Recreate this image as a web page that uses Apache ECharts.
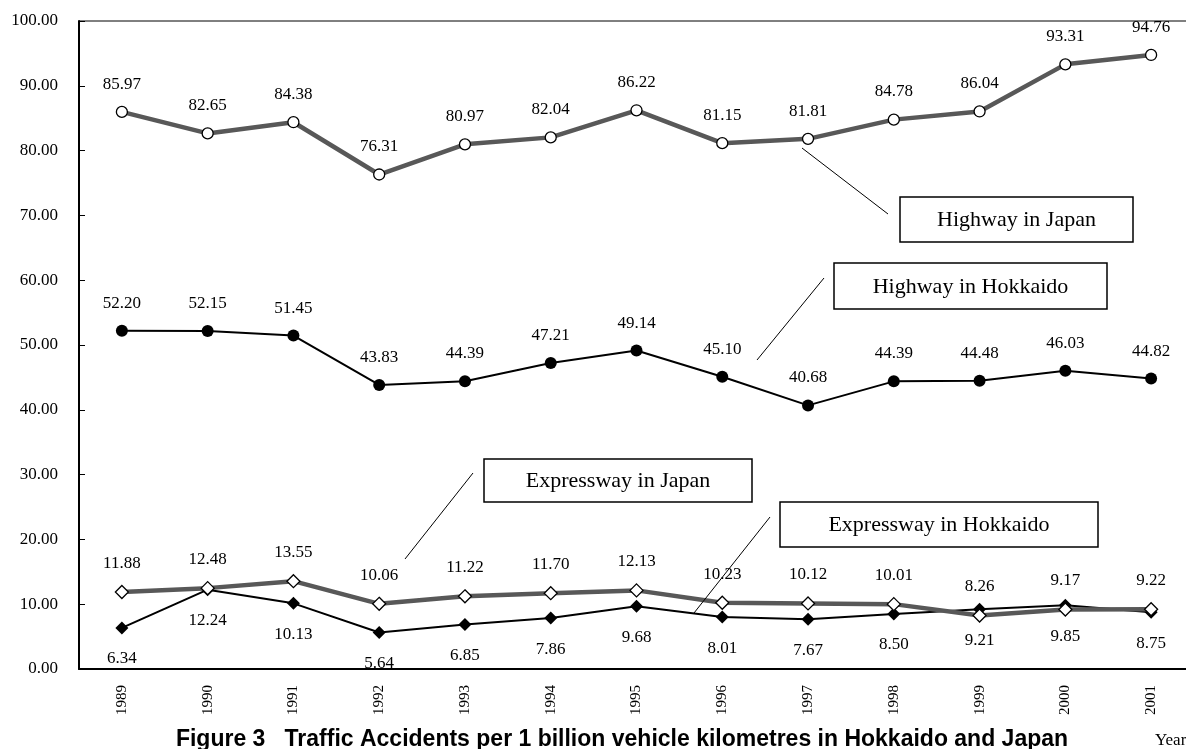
<!DOCTYPE html>
<html>
<head>
<meta charset="utf-8">
<title>Traffic Accidents per 1 billion vehicle kilometres</title>
<script src="https://cdn.jsdelivr.net/npm/echarts@6/dist/echarts.min.js"></script>
<style>
  html, body { margin: 0; padding: 0; background: #fff; }
  #chart { width: 1186px; height: 749px; }
</style>
</head>
<body>
<div id="chart"></div>
<script>
// Accidents per 1 billion vehicle-km, 1989-2001
const years = ['1989','1990','1991','1992','1993','1994','1995','1996','1997','1998','1999','2000','2001'];
const highwayJapan     = [85.97, 82.65, 84.38, 76.31, 80.97, 82.04, 86.22, 81.15, 81.81, 84.78, 86.04, 93.31, 94.76];
const highwayHokkaido  = [52.20, 52.15, 51.45, 43.83, 44.39, 47.21, 49.14, 45.10, 40.68, 44.39, 44.48, 46.03, 44.82];
const expresswayJapan  = [11.88, 12.48, 13.55, 10.06, 11.22, 11.70, 12.13, 10.23, 10.12, 10.01, 8.26, 9.17, 9.22];
const expresswayHokkaido = [6.34, 12.24, 10.13, 5.64, 6.85, 7.86, 9.68, 8.01, 7.67, 8.50, 9.21, 9.85, 8.75];
const yTicks = { min: 0, max: 100, interval: 10 };

const SERIF = '"Liberation Serif", "Times New Roman", serif';
const GRAY = '#585858';

function valueLabel(pos, dist) {
  return {
    show: true, position: pos, distance: dist,
    color: '#000', fontFamily: SERIF, fontSize: 17,
    formatter: p => p.value.toFixed(2)
  };
}

function callout(x, y, w, h, text, lx1, ly1, lx2, ly2) {
  return [
    { type: 'line', z: 50, shape: { x1: lx1, y1: ly1, x2: lx2, y2: ly2 },
      style: { stroke: '#000', lineWidth: 1 } },
    { type: 'rect', z: 50, shape: { x: x, y: y, width: w, height: h },
      style: { fill: '#fff', stroke: '#000', lineWidth: 1.5 } },
    { type: 'text', z: 51, x: x + w / 2, y: y + h / 2 + 1,
      style: { text: text, fill: '#000', font: '22px ' + SERIF, align: 'center', verticalAlign: 'middle' } }
  ];
}

const chart = echarts.init(document.getElementById('chart'));
chart.setOption({
  animation: false,
  backgroundColor: '#fff',
  grid: {
    left: 79, top: 21, bottom: 80, right: -8,
    outerBoundsMode: 'none', containLabel: false,
    show: true, borderColor: '#000', borderWidth: 1, backgroundColor: 'transparent'
  },
  xAxis: {
    type: 'category',
    data: years,
    boundaryGap: true,
    axisLine: { lineStyle: { color: '#000', width: 2 } },
    axisTick: { inside: true, length: 6, lineStyle: { color: '#000', width: 1.5 } },
    axisLabel: { rotate: 90, margin: 16, color: '#000', fontFamily: SERIF, fontSize: 15 },
    splitLine: { show: false }
  },
  yAxis: {
    type: 'value',
    min: yTicks.min, max: yTicks.max, interval: yTicks.interval,
    axisLine: { show: true, lineStyle: { color: '#000', width: 2 } },
    axisTick: { show: true, inside: true, length: 6, lineStyle: { color: '#000', width: 1 } },
    axisLabel: { margin: 21, color: '#000', fontFamily: SERIF, fontSize: 17,
                 formatter: v => v.toFixed(2) },
    splitLine: { show: false }
  },
  series: [
    {
      name: 'Highway in Japan', type: 'line', data: highwayJapan,
      symbol: 'circle', symbolSize: 11, showAllSymbol: true,
      lineStyle: { color: GRAY, width: 4.5 },
      itemStyle: { color: '#fff', borderColor: '#000', borderWidth: 1.3 },
      label: valueLabel('top', 13)
    },
    {
      name: 'Highway in Hokkaido', type: 'line', data: highwayHokkaido,
      symbol: 'circle', symbolSize: 12, showAllSymbol: true,
      lineStyle: { color: '#000', width: 2 },
      itemStyle: { color: '#000', borderColor: '#000', borderWidth: 0 },
      label: valueLabel('top', 13)
    },
    {
      name: 'Expressway in Japan', type: 'line', data: expresswayJapan,
      symbol: 'diamond', symbolSize: 13, showAllSymbol: true, z: 3,
      lineStyle: { color: GRAY, width: 4.5 },
      itemStyle: { color: '#fff', borderColor: '#000', borderWidth: 1.3 },
      label: valueLabel('top', 13)
    },
    {
      name: 'Expressway in Hokkaido', type: 'line', data: expresswayHokkaido,
      symbol: 'diamond', symbolSize: 13, showAllSymbol: true, z: 2,
      lineStyle: { color: '#000', width: 2 },
      itemStyle: { color: '#000', borderColor: '#000', borderWidth: 0 },
      label: valueLabel('bottom', 16)
    }
  ],
  graphic: [
    ...callout(900, 197, 233, 45, 'Highway in Japan', 802, 148, 888, 214),
    ...callout(834, 263, 273, 46, 'Highway in Hokkaido', 757, 360, 824, 278),
    ...callout(484, 459, 268, 43, 'Expressway in Japan', 405, 559, 473, 473),
    ...callout(780, 502, 318, 45, 'Expressway in Hokkaido', 694, 613, 770, 517),
    { type: 'text', x: 622, y: 740,
      style: { text: 'Figure 3   Traffic Accidents per 1 billion vehicle kilometres in Hokkaido and Japan',
               fill: '#000', font: 'bold 23px "Liberation Sans", Arial, sans-serif',
               align: 'center', verticalAlign: 'middle' } },
    { type: 'text', x: 1155, y: 741,
      style: { text: 'Year', fill: '#000', font: '17px ' + SERIF, align: 'left', verticalAlign: 'middle' } }
  ]
});
</script>
</body>
</html>
